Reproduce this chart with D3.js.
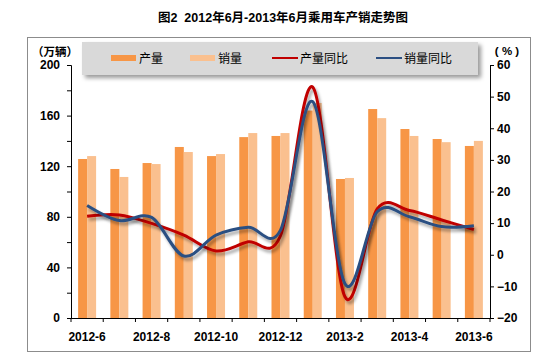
<!DOCTYPE html>
<html><head><meta charset="utf-8">
<script src="https://cdn.jsdelivr.net/npm/d3@7"></script>
<style>
body{margin:0;background:#fff;}
text{font-family:Arial,"Liberation Sans","Noto Sans CJK SC",sans-serif;}
</style></head>
<body>
<svg id="c" width="545" height="358"></svg>
<script>
const months = ["2012-6","2012-7","2012-8","2012-9","2012-10","2012-11","2012-12","2013-1","2013-2","2013-3","2013-4","2013-5","2013-6"];
const tickLabels = ["2012-6","2012-8","2012-10","2012-12","2013-2","2013-4","2013-6"];
const production = [125.7,117.8,122.5,135.2,128.0,143.0,143.9,164.0,109.9,165.2,149.4,141.5,136.0];
const sales      = [128.0,111.5,121.7,131.2,129.6,146.2,146.2,170.0,110.7,158.0,143.9,139.0,140.0];
const prodYoY    = [12.2,12.6,9.9,6.2,1.2,4.1,6.0,53.0,-13.3,14.5,14.0,11.0,8.0];
const salesYoY   = [15.6,10.8,11.8,-0.4,6.2,8.7,7.8,48.4,-9.2,13.6,12.0,8.9,9.2];

const svg = d3.select("#c");
const L=71, R=490, T=65, B=318;
const COL_P="#f79646", COL_S="#fac08f", COL_R="#c00000", COL_B="#2b4f82";

const defs = svg.append("defs");
const f = defs.append("filter").attr("id","sh").attr("x","-10%").attr("y","-10%").attr("width","130%").attr("height","140%");
f.append("feDropShadow").attr("dx",2).attr("dy",3).attr("stdDeviation",1.5).attr("flood-color","#000").attr("flood-opacity",0.35);
const f2 = defs.append("filter").attr("id","sh2").attr("x","-5%").attr("y","-20%").attr("width","115%").attr("height","160%");
f2.append("feDropShadow").attr("dx",3).attr("dy",3).attr("stdDeviation",2).attr("flood-color","#000").attr("flood-opacity",0.4);

// outer frame
svg.append("rect").attr("x",27.5).attr("y",37.5).attr("width",503).attr("height",314).attr("fill","#fff").attr("stroke","#8c8c8c").attr("stroke-width",1);

// title
svg.append("text").attr("x",283).attr("y",22).attr("text-anchor","middle").attr("font-size",12.5).attr("font-weight","bold").attr("fill","#000")
  .style("white-space","pre").attr("xml:space","preserve")
  .text("图2  2012年6月-2013年6月乘用车产销走势图");

const x = d3.scaleBand().domain(months).range([L,R]).paddingInner(0).paddingOuter(0);
const yL = d3.scaleLinear().domain([0,200]).range([B,T]);
const yR = d3.scaleLinear().domain([-20,60]).range([B,T]);
const bw = 9;

// bars
const g = svg.append("g");
g.selectAll(".bp").data(months).enter().append("rect")
  .attr("x",d=>x(d)+x.bandwidth()/2-bw).attr("width",bw)
  .attr("y",(d,i)=>yL(production[i])).attr("height",(d,i)=>B-yL(production[i])).attr("fill",COL_P);
g.selectAll(".bs").data(months).enter().append("rect")
  .attr("x",d=>x(d)+x.bandwidth()/2).attr("width",bw)
  .attr("y",(d,i)=>yL(sales[i])).attr("height",(d,i)=>B-yL(sales[i])).attr("fill",COL_S);

// lines
const line = arr => d3.line().x((d,i)=>x(months[i])+x.bandwidth()/2).y(d=>yR(d)).curve(d3.curveCatmullRom.alpha(0))(arr);
svg.append("path").attr("d",line(prodYoY)).attr("fill","none").attr("stroke",COL_R).attr("stroke-width",3).attr("filter","url(#sh)");
svg.append("path").attr("d",line(salesYoY)).attr("fill","none").attr("stroke",COL_B).attr("stroke-width",3).attr("filter","url(#sh)");

// axes
const axL = d3.axisLeft(yL).tickValues(d3.range(0,201,20)).tickSize(4).tickFormat(d=>d%40===0?d:"");
const gl = svg.append("g").attr("transform",`translate(${L},0)`).call(axL);
const axR = d3.axisRight(yR).tickValues(d3.range(-20,61,10)).tickSize(4);
const gr = svg.append("g").attr("transform",`translate(${R},0)`).call(axR);
const axX = d3.axisBottom(x).tickSize(0).tickFormat(d=>tickLabels.includes(d)?d:"");
const gx = svg.append("g").attr("transform",`translate(0,${B})`).call(axX);
[gl,gr,gx].forEach(a=>{
  a.select(".domain").attr("stroke","#000").attr("stroke-width",1);
  a.selectAll(".tick line").attr("stroke","#000");
  a.selectAll("text").attr("font-size",12).attr("font-weight","bold").attr("fill","#000").attr("font-family","Arial,'Liberation Sans',sans-serif");
});
gl.select(".domain").attr("d",`M-4,${T+0.5}H0.5V${B+0.5}H-4`);
gl.selectAll(".tick text").attr("x",-11);
gr.select(".domain").attr("d",`M4,${T+0.5}H0.5V${B+0.5}H4`);
gr.selectAll(".tick text").attr("x",7);
gx.select(".domain").attr("d",`M${L},0.5H${R}`);
gx.selectAll(".tick text").attr("dy",0).attr("y",23);
// x ticks at category boundaries
svg.append("g").selectAll("line").data(d3.range(0,14)).enter().append("line")
  .attr("x1",i=>L+i*x.step()).attr("x2",i=>L+i*x.step()).attr("y1",B).attr("y2",B+4).attr("stroke","#000");

// axis unit labels
svg.append("text").attr("x",55).attr("y",56).attr("text-anchor","middle").attr("font-size",11.5).attr("font-weight","bold").text("（万辆）");
svg.append("text").attr("x",507).attr("y",55).attr("text-anchor","middle").attr("font-size",11.5).attr("font-weight","bold")
  .style("white-space","pre").attr("xml:space","preserve").text("( % )");

// legend
svg.append("rect").attr("x",82).attr("y",42).attr("width",396).attr("height",33).attr("fill","#d9d9d9").attr("filter","url(#sh2)");
const lg = svg.append("g");
const items = [
  {t:"产量", type:"rect", c:COL_P, x:111},
  {t:"销量", type:"rect", c:COL_S, x:190},
  {t:"产量同比", type:"line", c:COL_R, x:272},
  {t:"销量同比", type:"line", c:COL_B, x:376}
];
items.forEach(it=>{
  if(it.type==="rect") lg.append("rect").attr("x",it.x).attr("y",55).attr("width",25).attr("height",6).attr("fill",it.c);
  else lg.append("line").attr("x1",it.x).attr("x2",it.x+26).attr("y1",58).attr("y2",58).attr("stroke",it.c).attr("stroke-width",2);
  lg.append("text").attr("x",it.x+28).attr("y",62.5).attr("font-size",12).attr("fill","#000").text(it.t);
});
</script>
</body></html>
